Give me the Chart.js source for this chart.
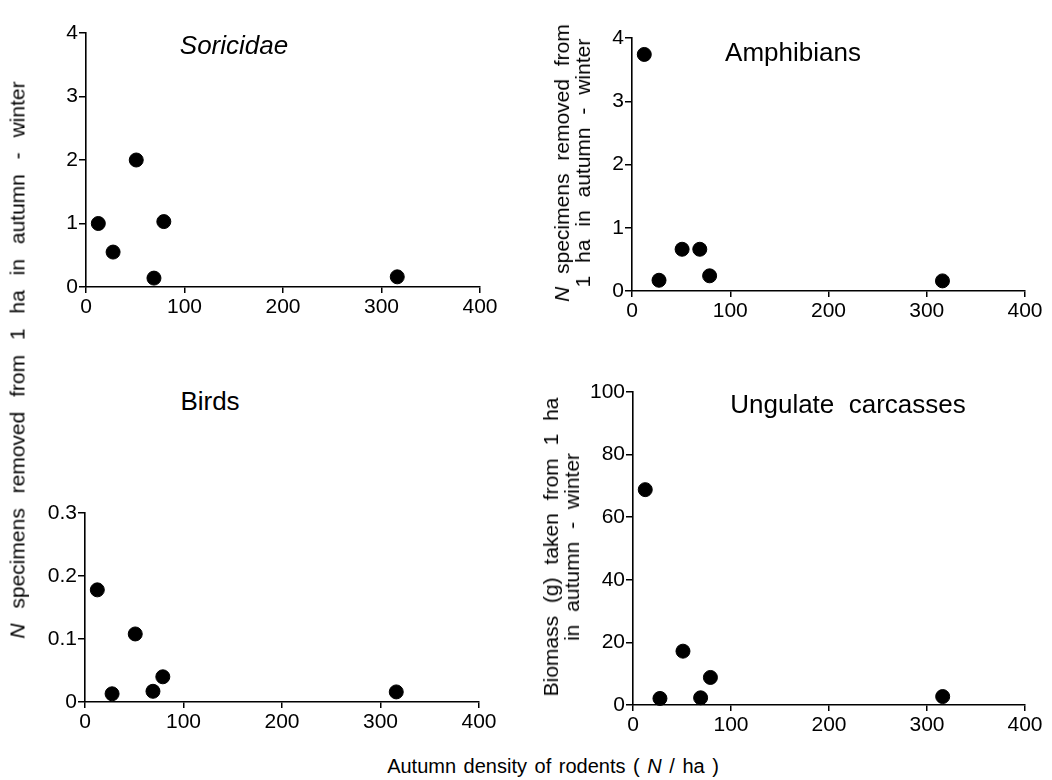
<!DOCTYPE html>
<html lang="en">
<head>
<meta charset="UTF-8">
<title>Prey removed vs. autumn rodent density</title>
<script src="https://cdn.jsdelivr.net/npm/chart.js"></script>
<style>
  body { margin: 0; background: #fff; }
  #figure { position: relative; width: 1052px; height: 780px; overflow: hidden;
            font-family: "Liberation Sans", Arial, sans-serif; color: #000; }
  #figure canvas { position: absolute; }
  .label { position: absolute; white-space: nowrap; transform: translate(-50%, -50%); line-height: 1; }
  .vlabel { transform: translate(-50%, -50%) rotate(-90deg); text-align: center; }
  .ytitle { font-size: 21px; word-spacing: 7px; line-height: 21px; }
  .ptitle { font-size: 26px; }
  .xtitle { font-size: 20px; word-spacing: 2px; }
</style>
</head>
<body>
<div id="figure">
  <canvas id="soricidaeChart"></canvas>
  <canvas id="amphibiansChart"></canvas>
  <canvas id="birdsChart"></canvas>
  <canvas id="ungulatesChart"></canvas>

  <div class="label ptitle" style="left:234px; top:45px;"><i>Soricidae</i></div>
  <div class="label ptitle" style="left:793px; top:52px;">Amphibians</div>
  <div class="label ptitle" style="left:210px; top:401px;">Birds</div>
  <div class="label ptitle" style="left:848px; top:404px;">Ungulate&nbsp; carcasses</div>

  <div class="label vlabel ytitle" style="left:17px; top:360px; word-spacing:9px;"><i>N</i> specimens removed from 1 ha in autumn - winter</div>
  <div class="label vlabel ytitle" style="left:572px; top:163px;"><i>N</i> specimens removed from<br>1 ha in autumn - winter</div>
  <div class="label vlabel ytitle" style="left:561px; top:547px;">Biomass (g) taken from 1 ha<br>in autumn - winter</div>

  <div class="label xtitle" style="left:553px; top:766px;">Autumn density of rodents ( <i>N</i> / ha )</div>
</div>

<script>
  // rodent density (N/ha) at the six sites, shared by all panels
  const density = [12.5, 27.5, 51, 69, 79, 316];

  const soricidae = [1.0, 0.55, 2.0, 0.14, 1.03, 0.16];
  const amphibians = [3.74, 0.17, 0.66, 0.66, 0.24, 0.16];
  const birds = [0.178, 0.013, 0.108, 0.017, 0.040, 0.016];
  const ungulates = [68.8, 2.1, 17.2, 2.3, 8.8, 2.7];

  const xTicks = [0, 100, 200, 300, 400];
  const countTicks = [0, 1, 2, 3, 4];
  const birdTicks = [0, 0.1, 0.2, 0.3];
  const biomassTicks = [0, 20, 40, 60, 80, 100];

  const Y_W = 70, X_H = 45, PAD_TOP = 15, PAD_RIGHT = 30;

  function axis(tickList, tickLen, pad, fit) {
    return {
      type: 'linear',
      min: tickList[0],
      max: tickList[tickList.length - 1],
      afterBuildTicks: (s) => { s.ticks = tickList.map(v => ({ value: v })); },
      afterFit: fit,
      border: { display: true, color: '#000', width: 1.6 },
      grid: { display: true, drawOnChartArea: false, drawTicks: true,
              tickLength: tickLen, color: '#000', lineWidth: 1.5 },
      ticks: {
        color: '#000', padding: pad, maxRotation: 0, autoSkip: false,
        font: { family: '"Liberation Sans", Arial, sans-serif', size: 21 },
        callback: (v) => String(v)
      }
    };
  }

  function makePanel(id, area, values, yTicks) {
    const canvas = document.getElementById(id);
    canvas.width = area.right - area.left + Y_W + PAD_RIGHT;
    canvas.height = area.bottom - area.top + PAD_TOP + X_H;
    canvas.style.left = (area.left - Y_W) + 'px';
    canvas.style.top = (area.top - PAD_TOP) + 'px';

    const points = density.map((d, i) => ({ x: d, y: values[i] }));

    return new Chart(canvas.getContext('2d'), {
      type: 'scatter',
      data: {
        datasets: [{
          data: points,
          backgroundColor: '#000',
          borderColor: '#000',
          pointRadius: 7,
          pointHoverRadius: 7,
          clip: false
        }]
      },
      options: {
        responsive: false,
        animation: false,
        events: [],
        layout: { padding: { top: PAD_TOP, right: PAD_RIGHT, left: 0, bottom: 0 } },
        scales: {
          x: axis(xTicks, 6, 2, (s) => { s.height = X_H; }),
          y: axis(yTicks, 7, 1, (s) => { s.width = Y_W; })
        },
        plugins: { legend: { display: false }, tooltip: { enabled: false } }
      }
    });
  }

  makePanel('soricidaeChart', { left: 86, right: 480, top: 33, bottom: 287 }, soricidae, countTicks);
  makePanel('amphibiansChart', { left: 632, right: 1025, top: 38, bottom: 291 }, amphibians, countTicks);
  makePanel('birdsChart', { left: 85, right: 479, top: 513, bottom: 702 }, birds, birdTicks);
  makePanel('ungulatesChart', { left: 633, right: 1025, top: 392, bottom: 705 }, ungulates, biomassTicks);
</script>
</body>
</html>
